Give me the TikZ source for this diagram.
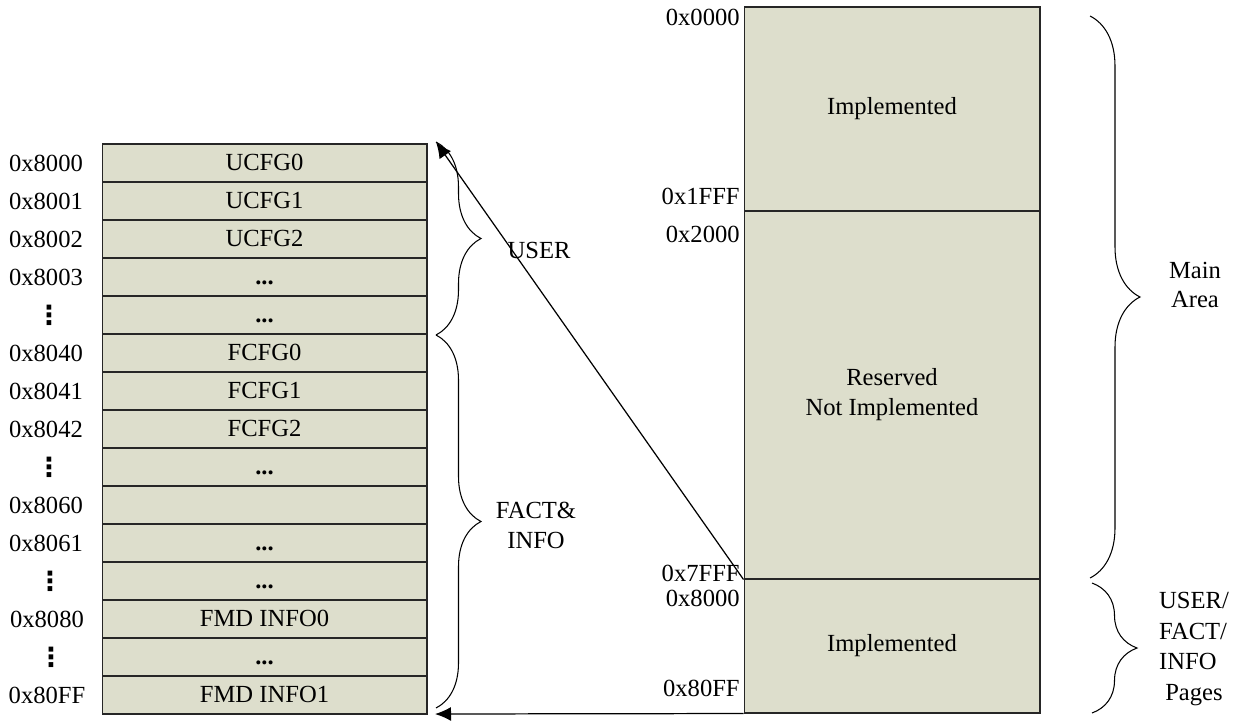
\documentclass[tikz,border=0pt]{standalone}
\usepackage{fontspec}
\setmainfont{Liberation Serif}
\newfontfamily\symfont{DejaVu Sans}
\usetikzlibrary{arrows.meta,decorations.pathreplacing}

\definecolor{memfill}{RGB}{221,222,204}

\begin{document}
\begin{tikzpicture}[x=0.02cm,y=-0.02cm,
    font=\fontsize{14}{17}\selectfont,
    >={Latex[length=0.32cm,width=0.28cm]},
    cell/.style={draw=black!85,fill=memfill,line width=0.6pt,minimum width=6.5cm,minimum height=0.76cm,inner sep=0pt,text height=10pt,text depth=1pt},
    block/.style={draw=black!85,fill=memfill,line width=0.6pt,minimum width=5.92cm,inner sep=0pt},
    addr/.style={inner sep=0pt},
    vdot/.style={inner sep=0pt,font=\symfont\bfseries\fontsize{15}{15}\selectfont},
    curly/.style={draw,line width=0.6pt,decorate,decoration={brace,amplitude=#1}},
    curly/.default=0.9cm]
    \useasboundingbox (0,0) rectangle (1233,720);

    % left table: one cell per address
    \node[cell] (ucfg0) at (264.5,163) {UCFG0};
    \node[cell] (ucfg1) at (264.5,201) {UCFG1};
    \node[cell] (ucfg2) at (264.5,239) {UCFG2};
    \node[cell] (udots1) at (264.5,277) {\textbf{...}};
    \node[cell] (udots2) at (264.5,315) {\textbf{...}};
    \node[cell] (fcfg0) at (264.5,353) {FCFG0};
    \node[cell] (fcfg1) at (264.5,391) {FCFG1};
    \node[cell] (fcfg2) at (264.5,429) {FCFG2};
    \node[cell] (fdots1) at (264.5,467) {\textbf{...}};
    \node[cell] (f8060) at (264.5,505) {};
    \node[cell] (fdots2) at (264.5,543) {\textbf{...}};
    \node[cell] (fdots3) at (264.5,581) {\textbf{...}};
    \node[cell] (info0) at (264.5,619) {FMD INFO0};
    \node[cell] (fdots4) at (264.5,657) {\textbf{...}};
    \node[cell] (info1) at (264.5,695) {FMD INFO1};

    \node[addr] (a8000) at (46,163) {0x8000};
    \node[addr] (a8001) at (46,201) {0x8001};
    \node[addr] (a8002) at (46,239) {0x8002};
    \node[addr] (a8003) at (46,277) {0x8003};
    \node[vdot] (av1) at (49,315) {⋮};
    \node[addr] (a8040) at (46,353) {0x8040};
    \node[addr] (a8041) at (46,391) {0x8041};
    \node[addr] (a8042) at (46,429) {0x8042};
    \node[vdot] (av2) at (49,467) {⋮};
    \node[addr] (a8060) at (46,505) {0x8060};
    \node[addr] (a8061) at (46,543) {0x8061};
    \node[vdot] (av3) at (50,581) {⋮};
    \node[addr] (a8080) at (47,619) {0x8080};
    \node[vdot] (av4) at (51,657) {⋮};
    \node[addr] (a80ff) at (47,695) {0x80FF};

    % right: whole address space
    \node[block,minimum height=4.08cm] (mainimpl) at (892,109) {Implemented};
    \node[block,minimum height=7.36cm,align=center] (reserved) at (892,395) {Reserved\\Not Implemented};
    \node[block,minimum height=2.68cm] (pageimpl) at (892,646) {Implemented};

    \node[addr,anchor=east] (m0000) at (740,17) {0x0000};
    \node[addr,anchor=east] (m1fff) at (740,196) {0x1FFF};
    \node[addr,anchor=east] (m2000) at (740,234) {0x2000};
    \node[addr,anchor=east] (m7fff) at (740,573) {0x7FFF};
    \node[addr,anchor=east] (m8000) at (740,598) {0x8000};
    \node[addr,anchor=east] (m80ff) at (740,688) {0x80FF};

    % braces
    \coordinate (usertop) at (436,142);
    \coordinate (userbot) at (436,335);
    \coordinate (factbot) at (436,708);
    \coordinate (maintop) at (1090,16);
    \coordinate (mainbot) at (1090,578);
    \coordinate (pagetop) at (1092,583);
    \coordinate (pagebot) at (1092,713);
    \coordinate (infobot) at (435,714);

    \draw[curly] (usertop) -- (userbot);
    \draw[curly] (userbot) -- (factbot);
    \draw[curly=1cm] (maintop) -- (mainbot);
    \draw[curly] (pagetop) -- (pagebot);

    \node (user) at (539,250) {USER};
    \node[align=center] (factinfo) at (536,525) {FACT\&\\INFO};
    \node[align=center] (mainarea) at (1195,285) {Main\\Area};
    \node[align=left,font=\fontsize{14}{17.5}\selectfont] (pages) at (1194,649) {USER/\\FACT/\\INFO\\\ Pages};

    % page mapping arrows
    \draw[->,line width=0.7pt] (reserved.south west) -- (usertop);
    \draw[->,line width=0.7pt] (pageimpl.south west) -- (infobot);
\end{tikzpicture}
\end{document}
